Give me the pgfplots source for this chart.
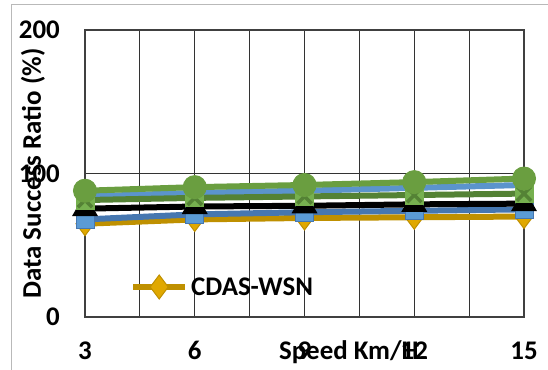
\documentclass[border=0pt]{standalone}
\usepackage{fontspec}
\setmainfont{Carlito}
\usepackage{pgfplots}
\pgfplotsset{compat=1.18}
\definecolor{cgold}{HTML}{BF9000}
\definecolor{cgoldl}{HTML}{E0A800}
\definecolor{csteel}{HTML}{4677B0}
\definecolor{csteell}{HTML}{5B9BD5}
\definecolor{cltblue}{HTML}{5B94CC}
\definecolor{cdkgreen}{HTML}{548235}
\definecolor{clgreen}{HTML}{76B04F}
\definecolor{cgreen}{HTML}{6A9E40}
\pgfdeclareplotmark{sqx}{%
  \pgfpathrectanglecorners{\pgfpoint{-\pgfplotmarksize}{-\pgfplotmarksize}}{\pgfpoint{\pgfplotmarksize}{\pgfplotmarksize}}%
  \pgfsetfillcolor{clgreen}\pgfusepathqfill
  \pgfsetstrokecolor{cdkgreen}\pgfsetlinewidth{3.5bp}%
  \pgfpathmoveto{\pgfpoint{-0.75\pgfplotmarksize}{-0.75\pgfplotmarksize}}%
  \pgfpathlineto{\pgfpoint{0.75\pgfplotmarksize}{0.75\pgfplotmarksize}}%
  \pgfpathmoveto{\pgfpoint{-0.75\pgfplotmarksize}{0.75\pgfplotmarksize}}%
  \pgfpathlineto{\pgfpoint{0.75\pgfplotmarksize}{-0.75\pgfplotmarksize}}%
  \pgfusepathqstroke
}
\newcommand{\bigfont}{\bfseries\fontsize{27}{32}\selectfont}
\begin{document}
\begin{tikzpicture}
\path[use as bounding box] (0,0) rectangle (548bp,370bp);
\draw[gray!55, line width=1bp] (11bp,-5bp) -- (11bp,365bp) -- (560bp,365bp);
\begin{axis}[
  at={(85bp,53bp)}, anchor=south west,
  scale only axis, width=439bp, height=287bp,
  xmin=3, xmax=15, ymin=0, ymax=200,
  xtick={3,6,9,12,15}, minor xtick={4.5,7.5,10.5,13.5},
  ytick={0,100,200},
  grid=both,
  major grid style={black!80, line width=0.9bp},
  minor grid style={black!80, line width=0.9bp},
  major tick length=0pt, minor tick length=0pt,
  axis line style={black!75, line width=1.3bp},
  clip=false,
  /pgf/number format/assume math mode=true,
  tick label style={font=\bigfont, inner sep=0pt},
  xticklabel style={anchor=base, yshift=-42bp},
  yticklabel style={anchor=east, xshift=-25bp},
  xlabel={Speed Km/H},
  xlabel style={font=\bigfont, at={(axis description cs:0.601,0)}, anchor=base, yshift=-42bp, inner sep=0pt},
  ylabel={Data Success Ratio (\%)},
  ylabel style={font=\bigfont, at={(axis description cs:-0.1185,0.5)}, anchor=center, inner sep=0pt},
  legend style={at={(axis description cs:0.1025,0.1045)}, anchor=west, draw=none, fill=none, inner sep=0pt, font=\bigfont, nodes={inner sep=3bp}},
  legend image code/.code={\draw[mark repeat=2, mark phase=2] plot coordinates {(0bp,0bp) (26bp,0bp) (52bp,0bp)};},
  every axis plot/.append style={line width=6bp},
]
\addplot[cgold, mark=diamond*, mark size=12bp, mark options={line width=1bp, fill=cgoldl, draw=cgold}]
  coordinates {(3,65) (6,68) (9,69) (12,69.5) (15,70)};
\addlegendentry{CDAS-WSN}
\addplot[csteel, mark=square*, mark size=9bp, mark options={line width=1bp, fill=csteell, draw=csteel}, forget plot]
  coordinates {(3,68) (6,71.5) (9,73) (12,74) (15,75)};
\addplot[black, mark=triangle*, mark size=14bp, mark options={line width=1bp, fill=black}, forget plot]
  coordinates {(3,75.5) (6,77) (9,77.5) (12,78.5) (15,79)};
\addplot[cltblue, mark=x, mark size=10bp, mark options={line width=4bp}, forget plot]
  coordinates {(3,84) (6,86.5) (9,88) (12,90) (15,92)};
\addplot[cdkgreen, mark=sqx, mark size=9.5bp, forget plot]
  coordinates {(3,81.5) (6,83) (9,84) (12,85) (15,86)};
\addplot[cgreen, mark=*, mark size=11.5bp, mark options={line width=1bp, fill=cgreen}, forget plot]
  coordinates {(3,88) (6,90.5) (9,92) (12,94) (15,96.5)};
\end{axis}
\end{tikzpicture}
\end{document}
